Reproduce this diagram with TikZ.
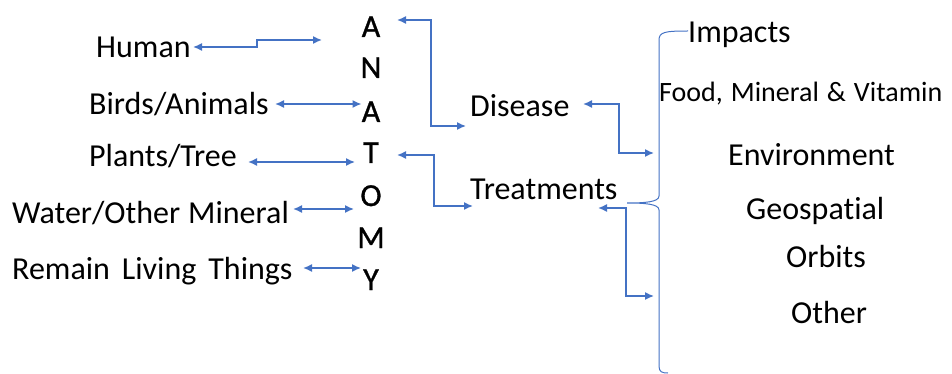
\documentclass[tikz,border=0pt]{standalone}
\usepackage{fontspec}
\setmainfont{Carlito}[Ligatures=NoCommon]
\newfontfamily\letterfont{Carlito}[FakeBold=1]
\usetikzlibrary{arrows.meta}
\definecolor{arrblue}{HTML}{4472C4}
\tikzset{
  lbl/.style={font=\fontsize{32}{32}\selectfont, inner sep=0pt, anchor=base west},
  smalllbl/.style={font=\fontsize{28}{28}\selectfont, inner sep=0pt, anchor=base west},
  letter/.style={font=\letterfont\fontsize{32}{32}\selectfont, inner sep=0pt, anchor=base},
  arr/.style={draw=arrblue, line width=1.5pt, {Latex[length=9pt,width=8pt]}-{Latex[length=9pt,width=8pt]}},
  bracestyle/.style={draw=arrblue, line width=1pt}
}
\begin{document}
\begin{tikzpicture}[x=1pt,y=-1pt]
\useasboundingbox (0,0) rectangle (952,374);
% left labels
\node[lbl] (human) at (96,58) {Human};
\node[lbl] (birds) at (89,115) {Birds/Animals};
\node[lbl] (plants) at (89,167) {Plants/Tree};
\node[lbl] (water) at (12,223) {Water/Other\hspace{8pt}Mineral};
\node[lbl] (remain) at (12,279) {Remain\hspace{12pt}Living\hspace{12pt}Things};
% ANATOMY
\node[letter] (l1) at (371,37) {A};
\node[letter] (l2) at (371,78) {N};
\node[letter] (l3) at (371,122) {A};
\node[letter] (l4) at (371,163) {T};
\node[letter] (l5) at (371,206) {O};
\node[letter] (l6) at (371,248) {M};
\node[letter] (l7) at (371,290) {Y};
% middle
\node[lbl] (disease) at (470,117) {Disease};
\node[lbl] (treat) at (470,200) {Treatments};
% right
\node[lbl] (impacts) at (688,43) {Impacts};
\node[smalllbl] (food) at (659,102) {Food,\hspace{8pt}Mineral\hspace{8pt}\&\hspace{8pt}Vitamin};
\node[lbl] (env) at (728,165) {Environment};
\node[lbl] (geo) at (746,219) {Geospatial};
\node[lbl] (orb) at (786,267) {Orbits};
\node[lbl] (oth) at (791,323) {Other};
% coordinates for free ends
\coordinate (humanend) at (322,40);
\coordinate (bracetop) at (654,153);
\coordinate (bracebot) at (654,296);
% arrows
\draw[arr] (193,47) -- (257,47) -- (257,40) -- (humanend);
\draw[arr] (275,104) -- (l3.west |- 0,104);
\draw[arr] (248,162) -- (355,162);
\draw[arr] (293,209) -- (354,209);
\draw[arr] (303,268) -- (361,268);
\draw[arr] (397,20) -- (431,20) -- (431,126) -- (466,126);
\draw[arr] (397,155) -- (434,155) -- (434,206) -- (473,206);
\draw[arr] (583,104) -- (619,104) -- (619,153) -- (bracetop);
\draw[arr] (598,208) -- (626,208) -- (626,296) -- (bracebot);
% brace
\draw[bracestyle] (impacts.west |- 0,31) .. controls (665,31) and (659,32) .. (659,40) -- (659,196)
  .. controls (659,202) and (645,203) .. (627,203)
  .. controls (645,203) and (659,204) .. (659,210) -- (659,366)
  .. controls (659,372) and (662,373) .. (668,373);
\end{tikzpicture}
\end{document}
